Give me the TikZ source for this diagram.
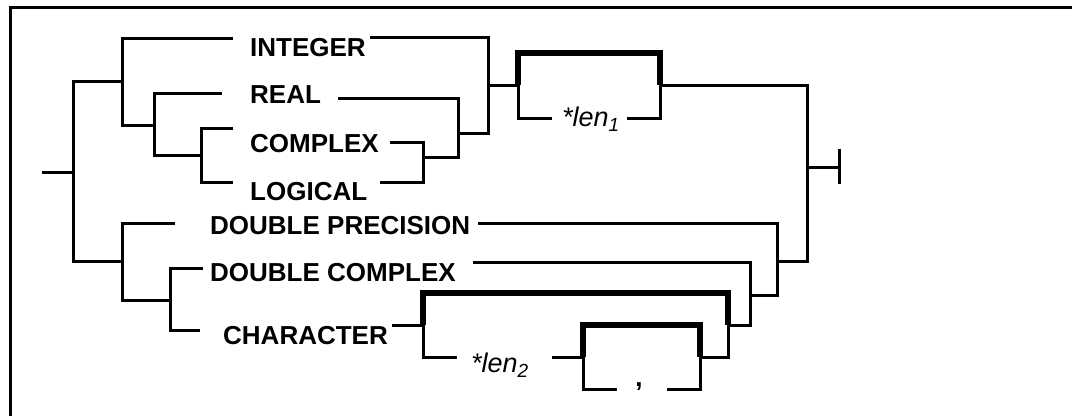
\documentclass[tikz,border=0pt]{standalone}
\usepackage{fontspec}
\setmainfont{Liberation Sans}
\usetikzlibrary{positioning}

\newcommand{\lensub}[1]{\raisebox{-5pt}{\fontsize{19}{19}\selectfont #1}}

\begin{document}
\begin{tikzpicture}[x=1pt, y=-1pt,
			% gaya untuk label kata kunci
			kw/.style={
				font=\fontsize{26}{30}\selectfont\bfseries,
				inner sep=0pt,
				anchor=base west
			},
			var/.style={
				font=\fontsize{27}{30}\selectfont\itshape,
				inner sep=0pt,
				anchor=base west
			},
			% gaya untuk jalur
			rail/.style={draw=black, line width=3pt},
			railthick/.style={draw=black, line width=5.2pt},
			frame/.style={draw=black, line width=3pt}
			]
			
			\useasboundingbox (0,0) rectangle (1072,416);
			\draw[frame] (1072,7) -- (10,7) -- (10,416);
			
			% label kata kunci
			\node[kw] (int) at (250,56) {INTEGER};
			\node[kw] (real) at (250,103) {REAL};
			\node[kw] (cplx) at (250,152) {COMPLEX};
			\node[kw] (logi) at (250,200) {LOGICAL};
			\node[kw] (dprec) at (210,234) {DOUBLE PRECISION};
			\node[kw] (dcplx) at (210,281) {DOUBLE COMPLEX};
			\node[kw] (chr) at (223,344) {CHARACTER};
			\node[var] (len1) at (562,126) {*len\lensub{1}};
			\node[var] (len2) at (471,372) {*len\lensub{2}};
			\node[font=\fontsize{26}{30}\selectfont\bfseries, inner sep=0pt, anchor=base] (comma) at (639,386) {,};
			
			% titik jalur kiri
			\coordinate (start) at (42,172);
			\coordinate (m0) at (73,172);
			\coordinate (m2) at (73,261);
			\coordinate (g1m) at (122,81);
			\coordinate (g1b) at (122,125);
			\coordinate (g2m) at (154,125);
			\coordinate (g2b) at (154,155);
			\coordinate (g3m) at (201,155);
			\coordinate (g3b) at (201,182);
			\coordinate (intL) at (233,38);
			\coordinate (realL) at (222,93);
			\coordinate (cplxL) at (233,128);
			\coordinate (logL) at (233,182);
			\coordinate (d1m) at (122,261);
			\coordinate (d1b) at (122,300);
			\coordinate (d2m) at (170,300);
			\coordinate (d2b) at (170,330);
			\coordinate (dpL) at (175,223);
			\coordinate (dcL) at (203,268);
			\coordinate (chL) at (200,330);
			
			% titik jalur kanan
			\coordinate (intR) at (370,37);
			\coordinate (realR) at (338,98);
			\coordinate (cplxR) at (390,142);
			\coordinate (logR) at (380,182);
			\coordinate (h3m) at (423,157);
			\coordinate (h3b) at (423,182);
			\coordinate (h2m) at (458,133);
			\coordinate (h2b) at (458,157);
			\coordinate (h1m) at (488,85);
			\coordinate (h1b) at (488,133);
			\coordinate (dpR) at (478,223);
			\coordinate (dcR) at (473,262);
			\coordinate (chR) at (392,325);
			\coordinate (r1m) at (777,261);
			\coordinate (r1b) at (777,295);
			\coordinate (r2m) at (750,295);
			\coordinate (r2b) at (750,325);
			\coordinate (e0) at (807,167);
			\coordinate (e1) at (807,261);
			\coordinate (stop) at (839,167);
			\coordinate (stopT) at (839,149);
			\coordinate (stopB) at (839,184);
			
			% kotak len1
			\coordinate (k1) at (518,85);
			\coordinate (k2) at (660,85);
			\coordinate (k2t) at (660,53);
			\coordinate (l1a) at (552,118);
			\coordinate (l1b) at (627,118);
			
			% kotak CHARACTER dan koma
			\coordinate (c1) at (423,325);
			\coordinate (c2) at (728,325);
			\coordinate (c2t) at (728,293);
			\coordinate (l2a) at (457,357);
			\coordinate (l2b) at (552,357);
			\coordinate (q1) at (583,357);
			\coordinate (q2) at (700,357);
			\coordinate (q2t) at (700,325);
			\coordinate (ca) at (617,389);
			\coordinate (cb) at (667,389);
			
			% jalur utama
			\draw[rail] (start) -- (m0);
			\draw[rail] (g1m) -| (m2) -- (d1m);
			\draw[rail] (intL) -| (g1b) -- (g2m);
			\draw[rail] (realL) -| (g2b) -- (g3m);
			\draw[rail] (cplxL) -| (g3b) -- (logL);
			\draw[rail] (intR) -| (h1b) -- (h2m);
			\draw[rail] (realR) -| (h2b) -- (h3m);
			\draw[rail] (cplxR) -| (h3b) -- (logR);
			\draw[rail] (h1m) -- (k1);
			\draw[railthick] (k1) |- (k2t) -- (k2);
			\draw[rail] (k1) |- (l1a);
			\draw[rail] (l1b) -| (k2);
			\draw[rail] (k2) -| (e1) -- (r1m);
			\draw[rail] (e0) -- (stop);
			\draw[rail] (stopT) -- (stopB);
			
			% jalur bawah
			\draw[rail] (dpL) -| (d1b) -- (d2m);
			\draw[rail] (dcL) -| (d2b) -- (chL);
			\draw[rail] (dpR) -| (r1b) -- (r2m);
			\draw[rail] (dcR) -| (r2b) -- (c2);
			\draw[rail] (chR) -- (c1);
			\draw[railthick] (c1) |- (c2t) -- (c2);
			\draw[rail] (c1) |- (l2a);
			\draw[rail] (l2b) -- (q1);
			\draw[railthick] (q1) |- (q2t) -- (q2);
			\draw[rail] (q1) |- (ca);
			\draw[rail] (cb) -| (q2);
			\draw[rail] (q2) -| (c2);
			
		\end{tikzpicture}
\end{document}
